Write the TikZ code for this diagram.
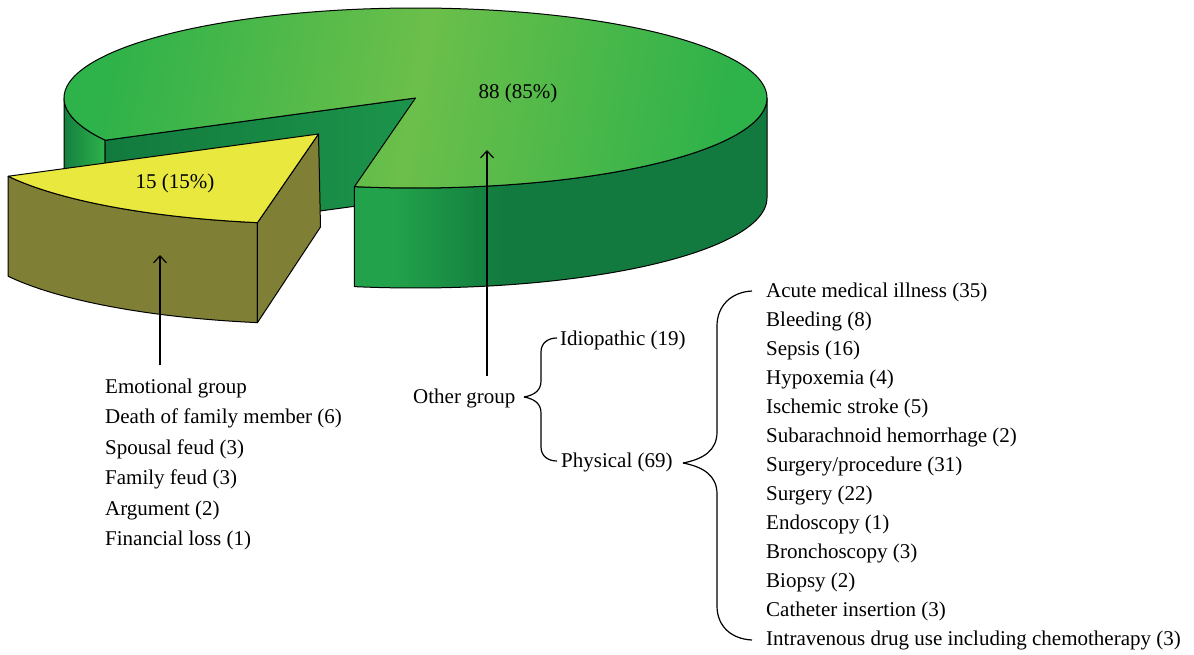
\documentclass[tikz,border=0pt]{standalone}
\usepackage{fontspec}
\setmainfont{Liberation Serif}
\usetikzlibrary{arrows.meta,calc}
\definecolor{topdark}{HTML}{2EB24A}
\definecolor{toplight}{HTML}{6CBF4A}
\definecolor{sidelight}{HTML}{22A24A}
\definecolor{sidedark}{HTML}{127A3E}
\definecolor{backmid}{HTML}{1C944A}
\definecolor{pieyellow}{HTML}{E8E83F}
\definecolor{pieolive}{HTML}{7F7F35}
\pgfdeclarehorizontalshading{frontside}{100bp}{color(0bp)=(sidelight); color(30bp)=(sidelight); color(43bp)=(sidedark); color(100bp)=(sidedark)}
\begin{document}
\begin{tikzpicture}[x=1pt,y=-1pt,
  edge/.style={draw=black,line width=1pt,line join=round},
  lbl/.style={anchor=base west,inner sep=0pt,font=\fontsize{21}{25}\selectfont},
  clbl/.style={inner sep=0pt,font=\fontsize{21}{25}\selectfont},
  pointer/.style={line width=1.2pt,-{Straight Barb[length=7pt,width=13pt,line width=1.2pt]}},
  bracel/.style={line width=1.2pt}]
\useasboundingbox (0,0) rectangle (1194,655);
\def\cx{415.5}\def\cy{98}\def\rx{351.5}\def\ry{90}\def\dd{100}
\def\ox{-97}\def\oy{36}
% green body: left outer side
\path[edge,left color=sidedark!85!sidelight,right color=topdark]
  plot[domain=152:180,samples=30] ({\cx+\rx*cos(\x)},{\cy+\ry*sin(\x)})
  -- plot[domain=180:152,samples=30] ({\cx+\rx*cos(\x)},{\cy+\dd+\ry*sin(\x)}) -- cycle;
% back cut face
\path[edge,left color=sidedark,right color=backmid]
  (\cx,\cy) -- ({\cx+\rx*cos(152)},{\cy+\ry*sin(152)})
  -- ({\cx+\rx*cos(152)},{\cy+\dd+\ry*sin(152)}) -- (\cx,\cy+\dd) -- cycle;
% front outer side
\path[edge,shading=frontside]
  plot[domain=0:100,samples=80] ({\cx+\rx*cos(\x)},{\cy+\ry*sin(\x)})
  -- plot[domain=100:0,samples=80] ({\cx+\rx*cos(\x)},{\cy+\dd+\ry*sin(\x)}) -- cycle;
% top surface
\path[edge,left color=topdark,right color=topdark,middle color=toplight,shading angle=80]
  (\cx,\cy) -- plot[domain=100:-208,samples=200] ({\cx+\rx*cos(\x)},{\cy+\ry*sin(\x)}) -- cycle;
% yellow slice: outer side
\path[edge,fill=pieolive]
  plot[domain=100:152,samples=50] ({\cx+\ox+\rx*cos(\x)},{\cy+\oy+\ry*sin(\x)})
  -- plot[domain=152:100,samples=50] ({\cx+\ox+\rx*cos(\x)},{\cy+\oy+\dd+\ry*sin(\x)}) -- cycle;
% yellow slice: cut face
\path[edge,fill=pieolive]
  (\cx+\ox,\cy+\oy) -- ({\cx+\ox+\rx*cos(100)},{\cy+\oy+\ry*sin(100)})
  -- ({\cx+\ox+\rx*cos(100)},{\cy+\oy+\dd+\ry*sin(100)}) -- (\cx+\ox+2,\cy+\oy+\dd-7) -- cycle;
% yellow slice: top
\path[edge,fill=pieyellow]
  (\cx+\ox,\cy+\oy) -- plot[domain=152:100,samples=50] ({\cx+\ox+\rx*cos(\x)},{\cy+\oy+\ry*sin(\x)}) -- cycle;
% value labels
\node[clbl] (v88) at (518,93) {88 (85\%)};
\node[clbl] (v15) at (175,183) {15 (15\%)};
% pointers
\coordinate (eTip) at (160,255);
\coordinate (eBase) at (160,365);
\coordinate (oTip) at (487,150);
\coordinate (oBase) at (487,376);
\draw[pointer] (eBase) -- (eTip);
\draw[pointer] (oBase) -- (oTip);
% emotional group list
\node[lbl] (em0) at (105,393) {Emotional group};
\node[lbl] (em1) at (105,423.5) {Death of family member (6)};
\node[lbl] (em2) at (105,454) {Spousal feud (3)};
\node[lbl] (em3) at (105,484.5) {Family feud (3)};
\node[lbl] (em4) at (105,515) {Argument (2)};
\node[lbl] (em5) at (105,545.5) {Financial loss (1)};
% other group
\node[lbl] (og) at (413,403) {Other group};
\node[lbl] (idio) at (560,345) {Idiopathic (19)};
\node[lbl] (phys) at (561,467) {Physical (69)};
\coordinate (ogTip) at (524,397);
\coordinate (idEnd) at (557,338);
\coordinate (phEnd) at (557,461);
\draw[bracel] (ogTip) .. controls (535,395) and (541,390) .. (541,381) -- (541,352)
  .. controls (541,343) and (548,338) .. (idEnd);
\draw[bracel] (ogTip) .. controls (535,399) and (541,404) .. (541,413) -- (541,447)
  .. controls (541,456) and (548,461) .. (phEnd);
% physical list
\node[lbl] (p1) at (766,297) {Acute medical illness (35)};
\node[lbl] (p2) at (766,326) {Bleeding (8)};
\node[lbl] (p3) at (766,355) {Sepsis (16)};
\node[lbl] (p4) at (766,384) {Hypoxemia (4)};
\node[lbl] (p5) at (766,413) {Ischemic stroke (5)};
\node[lbl] (p6) at (766,442) {Subarachnoid hemorrhage (2)};
\node[lbl] (p7) at (766,471) {Surgery/procedure (31)};
\node[lbl] (p8) at (766,500) {Surgery (22)};
\node[lbl] (p9) at (766,529) {Endoscopy (1)};
\node[lbl] (p10) at (766,558) {Bronchoscopy (3)};
\node[lbl] (p11) at (766,587) {Biopsy (2)};
\node[lbl] (p12) at (766,616) {Catheter insertion (3)};
\node[lbl] (p13) at (766,645) {Intravenous drug use including chemotherapy (3)};
\coordinate (phTip) at (683,463);
\coordinate (p1End) at (752,291);
\coordinate (p13End) at (752,640);
\draw[bracel] (phTip) .. controls (704,459) and (717,450) .. (717,432) -- (717,326)
  .. controls (717,306) and (731,292) .. (p1End);
\draw[bracel] (phTip) .. controls (704,467) and (717,476) .. (717,494) -- (717,606)
  .. controls (717,626) and (731,639) .. (p13End);
\end{tikzpicture}
\end{document}
